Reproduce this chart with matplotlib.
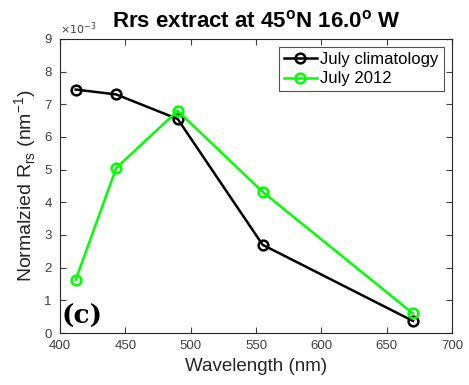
import matplotlib
matplotlib.use("Agg")
import matplotlib.pyplot as plt

plt.rcParams["font.family"] = ["Liberation Sans", "DejaVu Sans"]

wavelength = [412, 443, 490, 555, 670]
clim_july = [7.45, 7.30, 6.55, 2.70, 0.37]
july_2012 = [1.63, 5.05, 6.80, 4.32, 0.60]

fig = plt.figure(figsize=(4.69, 3.85), dpi=100)
ax = fig.add_axes([0.128, 0.135, 0.836, 0.764])

ax.plot(wavelength, clim_july, color="black", linewidth=1.8, marker="o",
        markersize=7, markerfacecolor="none", markeredgewidth=1.8,
        label="July climatology")
ax.plot(wavelength, july_2012, color="#00ff00", linewidth=1.8, marker="o",
        markersize=7, markerfacecolor="none", markeredgewidth=1.8,
        label="July 2012")

ax.set_xlim(400, 700)
ax.set_ylim(0, 9)
ax.set_xticks(range(400, 701, 50))
ax.set_yticks(range(0, 10))
ax.tick_params(direction="in", top=True, right=True, labelsize=9.5,
               labelcolor="#404040", length=4, color="#404040")
ax.tick_params(axis="x", pad=5)
ax.tick_params(axis="y", pad=6)
for s in ax.spines.values():
    s.set_color("#262626")
    s.set_linewidth(0.8)

ax.text(0.0, 1.005, r"$\times10^{-3}$", transform=ax.transAxes, fontsize=8,
        color="#404040", va="bottom", ha="left")

ax.set_xlabel("Wavelength (nm)", fontsize=13.5, color="#262626", labelpad=4)
ax.set_ylabel(r"Normalzied R$_{\mathregular{rs}}$ (nm$^{\mathregular{-1}}$)",
              fontsize=14, color="#262626", labelpad=4)
ax.set_title(r"Rrs extract at 45$^{\mathregular{o}}$N 16.0$^{\mathregular{o}}$ W",
             fontsize=16, fontweight="bold", pad=8)

ax.text(0.003, 0.015, "(c)", transform=ax.transAxes, fontsize=19,
        fontweight="bold", family="DejaVu Serif", va="bottom", ha="left")

leg = ax.legend(loc="upper right", fontsize=12, frameon=True, fancybox=False,
                borderpad=0.3, handlelength=2.0, handletextpad=0.2,
                labelspacing=0.25, borderaxespad=0.5)
leg.get_frame().set_edgecolor("#262626")
leg.get_frame().set_linewidth(0.8)

fig.savefig("out.png", dpi=100)
